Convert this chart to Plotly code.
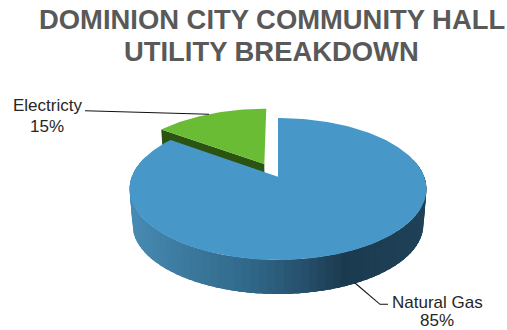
import math
import plotly.graph_objects as go

# --- data ---
categories = ["Electricty", "Natural Gas"]
shares = [15, 85]
title_lines = ["DOMINION CITY COMMUNITY HALL", "UTILITY BREAKDOWN"]

# --- styles ---
TOP_GREEN, WALL_GREEN = "#6BBC35", "#2B5413"
TOP_BLUE = "#4798C8"
TEXT = "#262626"
TITLE = "#595959"
WALL_STOPS = [(130, (0x47, 0x8B, 0xB3)), (190, (0x3B, 0x78, 0x9C)), (250, (0x30, 0x68, 0x89)),
              (300, (0x26, 0x52, 0x6E)), (345, (0x1B, 0x3A, 0x4F)), (427, (0x1F, 0x42, 0x59))]

# --- projection of the 3-D pie (plane -> picture) ---
X0, F, G, K = 278.0, 146.2, 68.9, 0.173
TOP_Y, BOT_Y, BOT_SCALE = 176.7, 212.4, 0.98
EXPLODE = 0.213


def project(u, v, level):
    w = 1 + K * v
    s, y0 = (1.0, TOP_Y) if level == "top" else (BOT_SCALE, BOT_Y)
    return X0 + s * F * u / w, y0 - s * G * v / w


def wall_colour(x):
    for (x1, c1), (x2, c2) in zip(WALL_STOPS, WALL_STOPS[1:]):
        if x <= x2:
            t = max(0.0, (x - x1) / (x2 - x1))
            return "rgb(%d,%d,%d)" % tuple(round(a + (b - a) * t) for a, b in zip(c1, c2))
    return "rgb(%d,%d,%d)" % WALL_STOPS[-1][1]


def poly(pts, colour, lw=0.0):
    return go.Scatter(x=[p[0] for p in pts] + [pts[0][0]], y=[p[1] for p in pts] + [pts[0][1]],
                      mode="lines", fill="toself", fillcolor=colour,
                      line=dict(color=colour, width=lw), hoverinfo="skip", showlegend=False)


total = sum(shares)
# Slices run clockwise from 12 o'clock: natural gas first, electricity closes the circle.
gas_sweep = 2 * math.pi * shares[1] / total
elec_sweep = 2 * math.pi * shares[0] / total
mid = gas_sweep + elec_sweep / 2
ox, oy = EXPLODE * math.sin(mid), EXPLODE * math.cos(mid)


def rim(theta, dx=0.0, dy=0.0):
    return math.sin(theta) + dx, math.cos(theta) + dy


fig = go.Figure()

# electricity: cut face, then top
a = rim(gas_sweep, ox, oy)
fig.add_trace(poly([project(ox, oy, "top"), project(*a, "top"), project(*a, "bot"), project(ox, oy, "bot")], WALL_GREEN))
n = 40
pts = [project(ox, oy, "top")] + [project(*rim(gas_sweep + elec_sweep * i / n, ox, oy), "top") for i in range(n + 1)]
fig.add_trace(poly(pts, TOP_GREEN))

# natural gas: outer wall, painted from the right so each piece overlaps the next seam
n = 110
step = gas_sweep / n
for i in range(n):
    t1, t2 = step * i, step * (i + 1)
    if math.cos((t1 + t2) / 2) > 0.25:
        continue
    ts = [t1 + (t2 + 1.5 * step - t1) * j / 4 for j in range(5)]
    ts = [min(t, math.pi * 1.62) for t in ts]
    upper = [project(*rim(t), "top") for t in ts]
    lower = [project(*rim(t), "bot") for t in reversed(ts)]
    mx = (project(*rim(t1), "top")[0] + project(*rim(t2), "top")[0]) / 2
    fig.add_trace(poly(upper + lower, wall_colour(mx)))
n = 240
pts = [project(0, 0, "top")] + [project(*rim(gas_sweep * i / n), "top") for i in range(n + 1)]
fig.add_trace(poly(pts, TOP_BLUE))

# leader lines
for xs, ys in [([85, 209], [110.7, 114.2]), ([355, 380, 388], [283, 304.3, 304.3])]:
    fig.add_trace(go.Scatter(x=xs, y=ys, mode="lines", line=dict(color="#111111", width=1.1),
                             hoverinfo="skip", showlegend=False))

# labels (one text per line so the tight line spacing can be matched)
for name, val, x, y1, y2 in [(categories[0], shares[0], 47, 105, 126), (categories[1], shares[1], 437, 302.8, 320.4)]:
    for text, y in ((name, y1), (f"{val}%", y2)):
        fig.add_annotation(x=x, y=y, xref="x", yref="y", text=text, showarrow=False,
                           font=dict(family="Liberation Sans", size=17, color=TEXT),
                           xanchor="center", yanchor="middle", borderpad=0)

# title
for text, y in zip(title_lines, (19.3, 51.3)):
    fig.add_annotation(x=271.8, y=y, xref="x", yref="y", text=f"<b>{text}</b>", showarrow=False,
                       font=dict(family="Liberation Sans", size=27.4, color=TITLE),
                       xanchor="center", yanchor="middle")

fig.update_layout(
    width=507, height=330, margin=dict(l=0, r=0, t=0, b=0), autosize=False,
    paper_bgcolor="white", plot_bgcolor="white", showlegend=False,
    xaxis=dict(range=[0, 507], visible=False, fixedrange=True),
    yaxis=dict(range=[330, 0], visible=False, fixedrange=True),
)
fig.write_html("out.html", post_script="document.body.style.margin='0';document.body.style.overflow='hidden';",
               config=dict(displayModeBar=False))
